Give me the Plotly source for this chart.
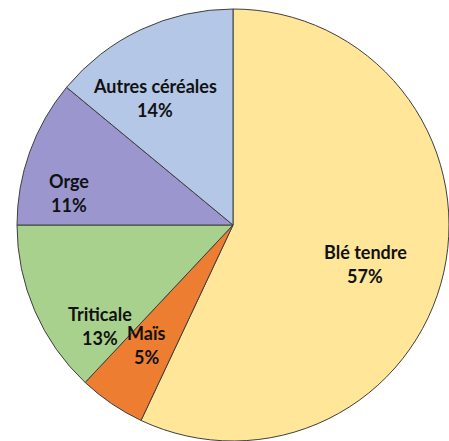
import plotly.graph_objects as go

categories = ["Blé tendre", "Maïs", "Triticale", "Orge", "Autres céréales"]
shares = [57, 5, 13, 11, 14]
colors = ["#FFE699", "#ED7D31", "#A9D18E", "#9B97CE", "#B4C7E7"]

# label centre positions (pixels from top-left) for each category
label_pos = [(365, 264), (146, 345), (100, 326), (69, 193), (155, 98)]

W, H = 449, 441
cx, cy, r = 233, 225, 216

fig = go.Figure(go.Pie(
    labels=categories,
    values=shares,
    sort=False,
    direction="clockwise",
    rotation=0,
    marker=dict(colors=colors, line=dict(color="#3F3F3F", width=1)),
    textinfo="none",
    hoverinfo="label+percent",
    showlegend=False,
    domain=dict(x=[(cx - r) / W, min(1, (cx + r) / W)],
                y=[max(0, (H - cy - r) / H), min(1, (H - cy + r) / H)]),
))

annotations = []
for name, val, (lx, ly) in zip(categories, shares, label_pos):
    for txt, dy in ((name, -12), (f"{val}%", 12)):
        annotations.append(dict(
            x=lx / W, y=1 - (ly + dy) / H, xref="paper", yref="paper",
            text=f"<b>{txt}</b>", showarrow=False,
            font=dict(family="Lato, 'Open Sans', sans-serif", size=18, color="#111111"),
            xanchor="center", yanchor="middle",
        ))

fig.update_layout(
    width=W, height=H,
    margin=dict(l=0, r=0, t=0, b=0),
    paper_bgcolor="white",
    plot_bgcolor="white",
    annotations=annotations,
)

fig.write_html("out.html",
               config={"displayModeBar": False},
               post_script="document.body.style.margin='0';document.body.style.overflow='hidden';")
